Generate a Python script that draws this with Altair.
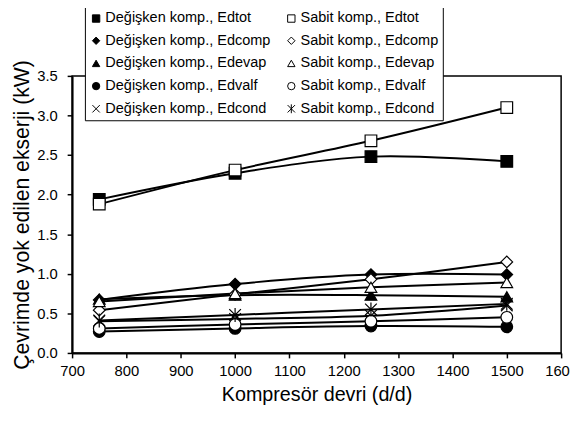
import altair as alt
import pandas as pd

rpm = [750, 1000, 1250, 1500]

series_names = [
    "Değişken komp., Edtot", "Değişken komp., Edcomp", "Değişken komp., Edevap",
    "Değişken komp., Edvalf", "Değişken komp., Edcond",
    "Sabit komp., Edtot", "Sabit komp., Edcomp", "Sabit komp., Edevap",
    "Sabit komp., Edvalf", "Sabit komp., Edcond",
]

deg_edtot = [1.94, 2.27, 2.48, 2.42]
deg_edcomp = [0.67, 0.87, 0.99, 0.99]
deg_edevap = [0.68, 0.73, 0.73, 0.71]
deg_edvalf = [0.27, 0.31, 0.34, 0.33]
deg_edcond = [0.40, 0.43, 0.47, 0.60]
sab_edtot = [1.88, 2.31, 2.68, 3.10]
sab_edcomp = [0.54, 0.74, 0.93, 1.15]
sab_edevap = [0.65, 0.75, 0.83, 0.89]
sab_edvalf = [0.31, 0.36, 0.40, 0.45]
sab_edcond = [0.41, 0.48, 0.55, 0.62]

values = [deg_edtot, deg_edcomp, deg_edevap, deg_edvalf, deg_edcond,
          sab_edtot, sab_edcomp, sab_edevap, sab_edvalf, sab_edcond]

x_ticks = [700, 800, 900, 1000, 1100, 1200, 1300, 1400, 1500, 1600]
y_ticks = [0.0, 0.5, 1.0, 1.5, 2.0, 2.5, 3.0, 3.5]

rows = []
for name, vals in zip(series_names, values):
    for r, v in zip(rpm, vals):
        rows.append({"series": name, "rpm": r, "val": v})
df = pd.DataFrame(rows)

xpath = "M-1,-1L1,1M-1,1L1,-1"
astpath = "M-1,-1L1,1M-1,1L1,-1M0,-1.2L0,1.2"
shapes = ["square", "diamond", "triangle-up", "circle", xpath,
          "square", "diamond", "triangle-up", "circle", astpath]
fills = ["black"] * 5 + ["white"] * 5

FONT = "Liberation Sans"

x_enc = alt.X("rpm:Q", scale=alt.Scale(domain=[700, 1600], nice=False),
              axis=alt.Axis(values=x_ticks, format="d", title="Kompresör devri (d/d)",
                            grid=False, tickSize=5, labelPadding=6, titlePadding=6,
                            titleFontSize=20, labelFlush=False))
y_enc = alt.Y("val:Q", scale=alt.Scale(domain=[0, 3.5], nice=False),
              axis=alt.Axis(values=y_ticks, format=".1f",
                            title="Çevrimde yok edilen ekserji (kW)",
                            grid=False, tickSize=5, labelPadding=10, titlePadding=3,
                            titleFontSize=21.5, labelFlush=False))

lines = alt.Chart(df).mark_line(color="black", strokeWidth=2,
                                interpolate="catmull-rom").encode(
    x=x_enc, y=y_enc, detail="series:N")

legend = alt.Legend(title=None, orient="none", legendX=13, legendY=-70,
                    columns=2, columnPadding=13, rowPadding=7, gridAlign="all",
                    padding=4, strokeColor="black", fillColor="white",
                    labelFontSize=14.7, labelFont=FONT, labelColor="black",
                    symbolSize=56, symbolStrokeWidth=1,
                    labelOffset=2, labelLimit=300)

points = alt.Chart(df).mark_point(filled=True, size=140, strokeWidth=1.2,
                                  opacity=1).encode(
    x=x_enc, y=y_enc,
    shape=alt.Shape("series:N", scale=alt.Scale(domain=series_names, range=shapes),
                    legend=legend),
    fill=alt.Fill("series:N", scale=alt.Scale(domain=series_names, range=fills),
                  legend=legend),
    stroke=alt.Stroke("series:N", scale=alt.Scale(domain=series_names,
                                                  range=["black"] * 10),
                      legend=legend),
)

chart = alt.layer(lines, points).properties(
    width=496, height=281,
    autosize=alt.AutoSizeParams(type="none"),
    padding={"left": 65, "top": 66, "right": 9, "bottom": 55},
).configure_view(
    stroke="black", strokeWidth=1.5
).configure_axis(
    domainColor="black", domainWidth=2, tickColor="black", tickWidth=1.5,
    labelFont=FONT, titleFont=FONT, labelFontSize=15,
    labelColor="black", titleColor="black", titleFontWeight="normal"
)

chart.save("out.html", embed_options={"renderer": "svg", "actions": False})
